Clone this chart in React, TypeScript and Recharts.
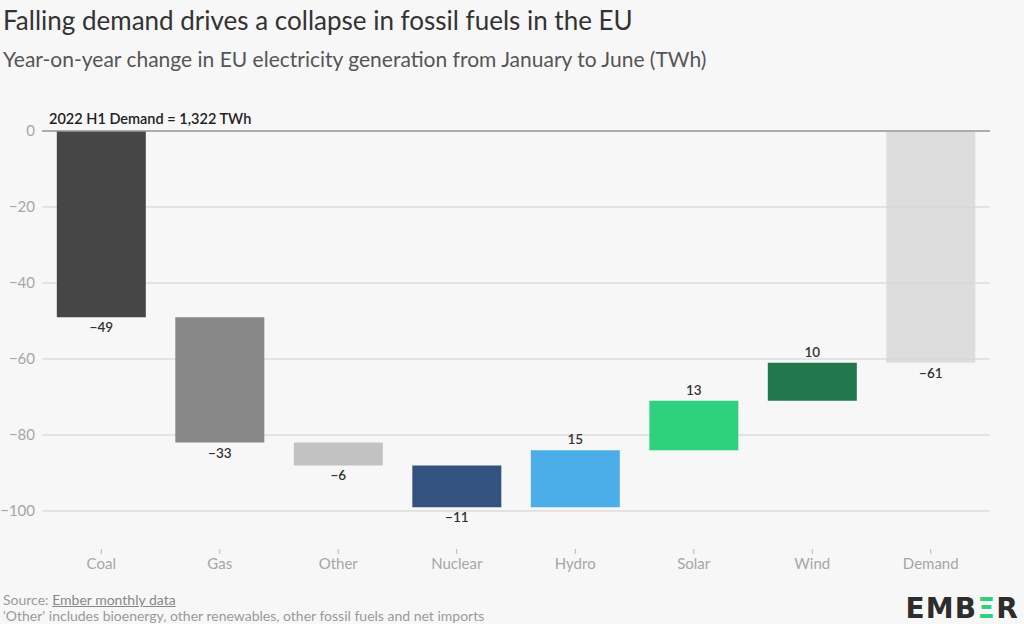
import {
  BarChart, Bar, XAxis, YAxis, CartesianGrid, Cell, LabelList, ReferenceLine,
} from 'recharts';

/* ── Data ────────────────────────────────────────────────────────────────── */

const CATEGORIES = ['Coal', 'Gas', 'Other', 'Nuclear', 'Hydro', 'Solar', 'Wind', 'Demand'];
// year-on-year change, TWh (Demand is the total bar)
const CHANGES = [-49, -33, -6, -11, 15, 13, 10, -61];
const IS_TOTAL = [false, false, false, false, false, false, false, true];
const Y_TICKS = [0, -20, -40, -60, -80, -100];

const COLORS = ['#464646', '#878787', '#c2c2c2', '#33527f', '#4caee8', '#2ed27e', '#22784c', '#d6d6d6'];

const FONT = "Lato, 'Open Sans', sans-serif";
const BG = '#f7f7f7';
const TEXT = '#333333';
const MUTED = '#a6a6a6';

/* ── Waterfall rows ──────────────────────────────────────────────────────── */

let running = 0;
const rows = CATEGORIES.map((name, i) => {
  const start = IS_TOTAL[i] ? 0 : running;
  const end = IS_TOTAL[i] ? CHANGES[i] : running + CHANGES[i];
  if (!IS_TOTAL[i]) running = end;
  return { name, change: CHANGES[i], range: [Math.min(start, end), Math.max(start, end)] };
});

/* ── Value labels: negatives under the bar, positives above ─────────────── */

function ValueLabel(props: any) {
  const { index } = props;
  const box = props.viewBox ?? props;
  const x = Number(box.x), y = Number(box.y), w = Number(box.width), h = Number(box.height);
  const top = Math.min(y, y + h);
  const bottom = Math.max(y, y + h);
  const v = CHANGES[index];
  const cx = x + w / 2;
  const ty = v < 0 ? bottom + 15 : top - 6;
  return (
    <text x={cx} y={ty} textAnchor="middle" fill={TEXT} fontSize={13.5} fontWeight={600} fontFamily={FONT}>
      {v < 0 ? `\u2212${Math.abs(v)}` : v}
    </text>
  );
}

function DemandNote(props: any) {
  const vb = props.viewBox ?? {};
  return (
    <text x={vb.x + 7} y={vb.y - 7} fill="#222" fontSize={14.5} fontWeight={600} fontFamily={FONT}>
      2022 H1 Demand = 1,322 TWh
    </text>
  );
}

// category tick: small stub plus label
function CategoryTick(props: any) {
  const { x, y, payload } = props;
  return (
    <g>
      <line x1={x} x2={x} y1={y} y2={y + 5} stroke="#b8b8b8" strokeWidth={1} />
      <text x={x} y={y + 20} textAnchor="middle" fill={MUTED} fontSize={15} fontFamily={FONT}>
        {payload.value}
      </text>
    </g>
  );
}

/* ── Page ────────────────────────────────────────────────────────────────── */

export default function App() {
  return (
    <div
      style={{
        position: 'absolute', left: 0, top: 0, width: 1024, height: 624,
        background: BG, fontFamily: FONT, overflow: 'hidden',
      }}
    >
      <div style={{ position: 'absolute', left: 3, top: 4, fontSize: 26, color: TEXT }}>
        Falling demand drives a collapse in fossil fuels in the EU
      </div>
      <div style={{ position: 'absolute', left: 3, top: 46, fontSize: 21, color: '#555' }}>
        Year-on-year change in EU electricity generation from January to June (TWh)
      </div>

      <div style={{ position: 'absolute', left: 0, top: 0 }}>
        <BarChart
          width={1000}
          height={600}
          data={rows}
          margin={{ top: 131, right: 10, bottom: 21, left: 0 }}
          barCategoryGap="12.5%"
        >
          <CartesianGrid vertical={false} stroke="#cfcfcf" strokeWidth={1.2} horizontalValues={Y_TICKS} />
          <XAxis
            dataKey="name"
            axisLine={false}
            tickLine={false}
            tickSize={0}
            tickMargin={0}
            tick={<CategoryTick />}
            interval={0}
          />
          <YAxis
            type="number"
            domain={[-110, 0]}
            ticks={Y_TICKS}
            width={42}
            axisLine={false}
            tickLine={false}
            tickSize={0}
            tickMargin={7}
            allowDataOverflow
            tickFormatter={(v: number) => (v < 0 ? `\u2212${Math.abs(v)}` : `${v}`)}
            tick={{ fill: MUTED, fontSize: 15, fontFamily: FONT }}
          />
          <Bar dataKey="range" isAnimationActive={false}>
            {rows.map((r, i) => (
              <Cell key={r.name} fill={COLORS[i]} fillOpacity={IS_TOTAL[i] ? 0.8 : 1} />
            ))}
            <LabelList dataKey="change" content={ValueLabel} />
          </Bar>
          <ReferenceLine y={0} stroke="#9a9a9a" strokeWidth={1.4} label={DemandNote} ifOverflow="visible" />
        </BarChart>
      </div>

      <div style={{ position: 'absolute', left: 3, top: 592, fontSize: 14, color: '#9a9a9a', lineHeight: '16px' }}>
        <div>
          Source: <span style={{ color: '#888', textDecoration: 'underline' }}>Ember monthly data</span>
        </div>
        <div>'Other' includes bioenergy, other renewables, other fossil fuels and net imports</div>
      </div>

      <div
        style={{
          position: 'absolute', right: 5, top: 592, fontSize: 28, fontWeight: 900,
          color: '#2d2d2d', letterSpacing: 1.2, fontFamily: "'DejaVu Sans', sans-serif",
        }}
      >
        EMB<span style={{ color: '#2ed27e' }}>Ξ</span>R
      </div>
    </div>
  );
}
